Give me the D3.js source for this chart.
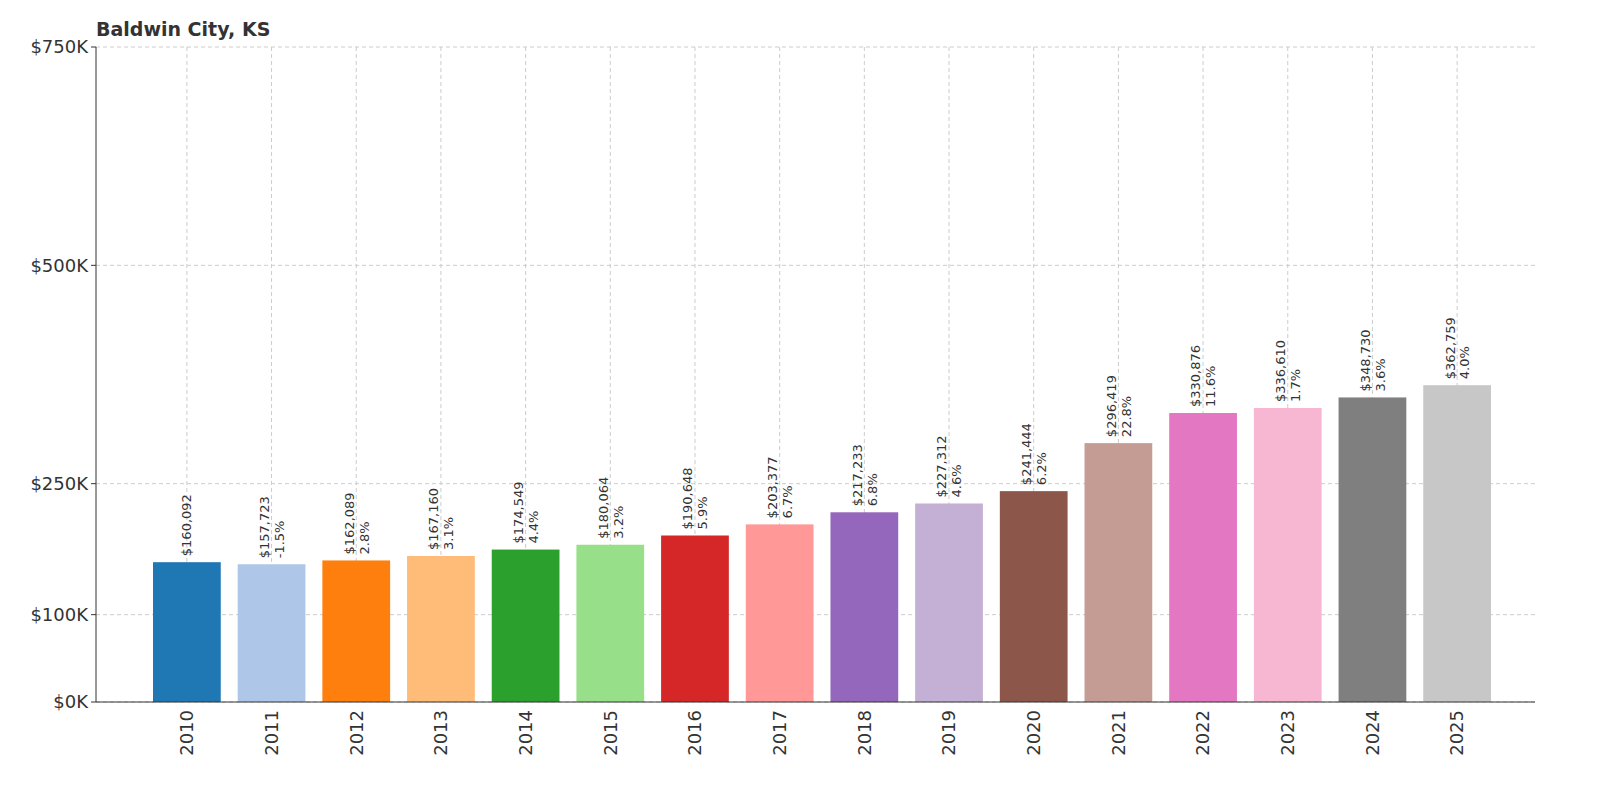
<!DOCTYPE html>
<html>
<head>
<meta charset="utf-8">
<script src="https://cdn.jsdelivr.net/npm/d3@7"></script>
<style>
  html, body { margin: 0; background: #fff; font-family: "DejaVu Sans", sans-serif; overflow: hidden; }
  svg { display: block; }
</style>
</head>
<body>
<div id="chart"></div>
<script>
var years = ['2010','2011','2012','2013','2014','2015','2016','2017','2018','2019','2020','2021','2022','2023','2024','2025'];
var values = [160092,157723,162089,167160,174549,180064,190648,203377,217233,227312,241444,296419,330876,336610,348730,362759];
var changes = [null,'-1.5%','2.8%','3.1%','4.4%','3.2%','5.9%','6.7%','6.8%','4.6%','6.2%','22.8%','11.6%','1.7%','3.6%','4.0%'];
var colors = ['#1f77b4','#aec7e8','#ff7f0e','#ffbb78','#2ca02c','#98df8a','#d62728','#ff9896','#9467bd','#c5b0d5','#8c564b','#c49c94','#e377c2','#f7b6d2','#7f7f7f','#c7c7c7'];
var yTicks = [0,100000,250000,500000,750000];

var svg = d3.select('#chart').append('svg')
    .attr('width', 1600)
    .attr('height', 800);

var plotLeft = 96, plotRight = 1535, plotTop = 47, plotBottom = 702;

var x = d3.scaleBand().domain(years).range([153, 1491]).paddingInner(0.2);
var y = d3.scaleLinear().domain([0, 750000]).range([plotBottom, plotTop]);

// grid
svg.append('g').selectAll('line').data(yTicks).enter().append('line')
    .attr('x1', plotLeft).attr('x2', plotRight)
    .attr('y1', function(d) { return y(d); }).attr('y2', function(d) { return y(d); })
    .style('stroke', '#ccc').style('stroke-dasharray', '4,3');
svg.append('g').selectAll('line').data(years).enter().append('line')
    .attr('x1', function(d) { return x(d) + x.bandwidth() / 2; })
    .attr('x2', function(d) { return x(d) + x.bandwidth() / 2; })
    .attr('y1', plotTop).attr('y2', plotBottom)
    .style('stroke', '#ccc').style('stroke-dasharray', '4,3');

// bars
svg.append('g').selectAll('rect').data(years).enter().append('rect')
    .attr('x', function(d) { return x(d); })
    .attr('width', x.bandwidth())
    .attr('y', function(d, i) { return y(values[i]); })
    .attr('height', function(d, i) { return plotBottom - y(values[i]); })
    .style('fill', function(d, i) { return colors[i]; });

// labels
var lab = svg.append('g').selectAll('text').data(years).enter().append('text')
    .attr('transform', function(d, i) {
      return 'translate(' + (x(d) + x.bandwidth() / 2) + ',' + (y(values[i]) - 6) + ') rotate(-90)';
    })
    .style('font-size', '13px').style('fill', '#333');
lab.append('tspan').attr('x', 0).attr('dy', function(d, i) { return changes[i] ? '-0.2em' : '0.35em'; })
    .text(function(d, i) { return '$' + d3.format(',')(values[i]); });
lab.filter(function(d, i) { return changes[i]; })
  .append('tspan').attr('x', 0).attr('dy', '1.15em')
    .text(function(d, i) { return changes[years.indexOf(d)]; });

// axes
svg.append('line').attr('x1', plotLeft).attr('x2', plotLeft).attr('y1', plotTop).attr('y2', plotBottom).style('stroke', '#333');
svg.append('line').attr('x1', plotLeft).attr('x2', plotRight).attr('y1', plotBottom).attr('y2', plotBottom).style('stroke', '#333');

svg.append('g').selectAll('text').data(yTicks).enter().append('text')
    .attr('x', plotLeft - 8).attr('y', function(d) { return y(d); }).attr('dy', '0.35em')
    .attr('text-anchor', 'end').style('font-size', '18px').style('fill', '#333')
    .text(function(d) { return '$' + (d / 1000) + 'K'; });
svg.append('g').selectAll('line').data(yTicks).enter().append('line')
    .attr('x1', plotLeft - 5).attr('x2', plotLeft)
    .attr('y1', function(d) { return y(d); }).attr('y2', function(d) { return y(d); })
    .style('stroke', '#333');

svg.append('g').selectAll('text').data(years).enter().append('text')
    .attr('transform', function(d) { return 'translate(' + (x(d) + x.bandwidth() / 2) + ',' + (plotBottom + 8) + ') rotate(-90)'; })
    .attr('dy', '0.35em').attr('text-anchor', 'end')
    .style('font-size', '18px').style('fill', '#333')
    .text(function(d) { return d; });

svg.append('text').attr('x', plotLeft).attr('y', 36)
    .style('font-size', '19px').style('font-weight', 'bold').style('fill', '#333')
    .text('Baldwin City, KS');
</script>
</body>
</html>
